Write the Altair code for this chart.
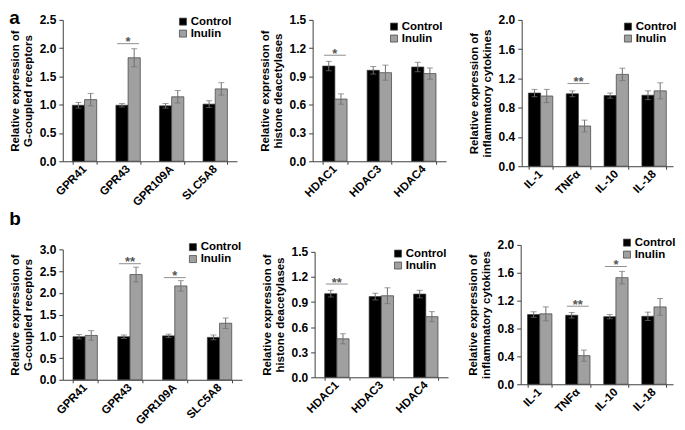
import altair as alt
import pandas as pd

GROUPS = ["Control", "Inulin"]
COLORS = ["#000000", "#a0a0a0"]
FONT = "Liberation Sans"

gpr_genes = ["GPR41", "GPR43", "GPR109A", "SLC5A8"]
hdac_genes = ["HDAC1", "HDAC3", "HDAC4"]
cyto_genes = ["IL-1", "TNFα", "IL-10", "IL-18"]

gpr_title = ["Relative expression of", "G-coupled receptors"]
hdac_title = ["Relative expression of", "histone deacetylases"]
cyto_title = ["Relative expression of", "inflammatory cytokines"]

# ---- panel a ----
a_gpr_ctrl = [0.99, 0.99, 0.98, 1.01]
a_gpr_ctrl_err = [0.05, 0.03, 0.04, 0.06]
a_gpr_inul = [1.09, 1.83, 1.14, 1.28]
a_gpr_inul_err = [0.11, 0.16, 0.11, 0.11]
a_gpr_sig_genes = ["GPR43"]
a_gpr_sig_marks = ["*"]
a_gpr_sig_y = [2.08]

a_hdac_ctrl = [1.01, 0.965, 1.00]
a_hdac_ctrl_err = [0.05, 0.04, 0.05]
a_hdac_inul = [0.66, 0.94, 0.93]
a_hdac_inul_err = [0.055, 0.08, 0.06]
a_hdac_sig_genes = ["HDAC1"]
a_hdac_sig_marks = ["*"]
a_hdac_sig_y = [1.125]

a_cyto_ctrl = [1.00, 0.99, 0.965, 0.97]
a_cyto_ctrl_err = [0.05, 0.04, 0.035, 0.06]
a_cyto_inul = [0.96, 0.55, 1.255, 1.03]
a_cyto_inul_err = [0.09, 0.08, 0.085, 0.11]
a_cyto_sig_genes = ["TNFα"]
a_cyto_sig_marks = ["**"]
a_cyto_sig_y = [1.13]

# ---- panel b ----
b_gpr_ctrl = [0.99, 0.99, 1.01, 0.975]
b_gpr_ctrl_err = [0.05, 0.04, 0.04, 0.055]
b_gpr_inul = [1.02, 2.42, 2.16, 1.30]
b_gpr_inul_err = [0.11, 0.17, 0.12, 0.12]
b_gpr_sig_genes = ["GPR43", "GPR109A"]
b_gpr_sig_marks = ["**", "*"]
b_gpr_sig_y = [2.67, 2.35]

b_hdac_ctrl = [1.00, 0.965, 0.995]
b_hdac_ctrl_err = [0.04, 0.04, 0.045]
b_hdac_inul = [0.46, 0.975, 0.725]
b_hdac_inul_err = [0.06, 0.095, 0.06]
b_hdac_sig_genes = ["HDAC1"]
b_hdac_sig_marks = ["**"]
b_hdac_sig_y = [1.115]

b_cyto_ctrl = [1.00, 0.99, 0.97, 0.975]
b_cyto_ctrl_err = [0.04, 0.04, 0.03, 0.06]
b_cyto_inul = [1.01, 0.41, 1.53, 1.11]
b_cyto_inul_err = [0.10, 0.08, 0.09, 0.12]
b_cyto_sig_genes = ["TNFα", "IL-10"]
b_cyto_sig_marks = ["**", "*"]
b_cyto_sig_y = [1.12, 1.69]


def make_panel(genes, ctrl, ctrl_err, inul, inul_err, sig_genes, sig_marks, sig_y,
               ymax, ystep, title, w, h, leg_x, leg_y):
    rows = []
    for g, v, e in zip(genes, ctrl, ctrl_err):
        rows.append({"gene": g, "group": "Control", "value": v, "lo": v - e, "hi": v + e})
    for g, v, e in zip(genes, inul, inul_err):
        rows.append({"gene": g, "group": "Inulin", "value": v, "lo": v - e, "hi": v + e})
    df = pd.DataFrame(rows)
    sig = pd.DataFrame({"gene": sig_genes, "mark": sig_marks, "y": sig_y})

    step = w / len(genes)
    pad = 1 - 24.5 / step
    xs = alt.Scale(domain=genes, paddingInner=pad, paddingOuter=pad / 2)
    xaxis = alt.Axis(labelAngle=-45, labelAlign="right", labelBaseline="middle",
                     labelPadding=3, tickBand="extent", tickSize=3, labelFontSize=11.5)

    def X():
        return alt.X("gene:N", scale=xs, sort=genes, title=None, axis=xaxis)

    xo = alt.XOffset("group:N", scale=alt.Scale(domain=GROUPS, paddingInner=0, paddingOuter=0))
    nt = int(round(ymax / ystep))
    yvals = [round(i * ystep, 3) for i in range(nt + 1)]
    ys = alt.Scale(domain=[0, ymax], nice=False)
    yaxis = alt.Axis(values=yvals, format=".1f", titlePadding=6, titleLineHeight=13,
                     labelPadding=3, tickSize=4, labelFontSize=12)

    def Y(field):
        return alt.Y(field, scale=ys, title=title, axis=yaxis)

    base = alt.Chart(df)
    bars = base.mark_bar(stroke="#3c3c3c", strokeWidth=0.7).encode(
        x=X(), xOffset=xo, y=Y("value:Q"),
        fill=alt.Fill("group:N", scale=alt.Scale(domain=GROUPS, range=COLORS),
                      legend=alt.Legend(orient="none", legendX=leg_x, legendY=leg_y,
                                        title=None, symbolType="square", symbolSize=50,
                                        symbolStrokeColor="#3c3c3c", symbolStrokeWidth=0.7,
                                        labelFont=FONT, labelFontWeight="bold",
                                        labelFontSize=11.5, labelColor="#000",
                                        rowPadding=-1, labelOffset=2, padding=0)))
    err = base.mark_rule(color="#707070", strokeWidth=1).encode(
        x=X(), xOffset=xo, y=Y("lo:Q"), y2="hi:Q")
    cap_hi = base.mark_tick(orient="horizontal", size=6, thickness=1, color="#707070").encode(
        x=X(), xOffset=xo, y=Y("hi:Q"))
    cap_lo = base.mark_tick(orient="horizontal", size=6, thickness=1, color="#707070").encode(
        x=X(), xOffset=xo, y=Y("lo:Q"))
    sline = alt.Chart(sig).mark_tick(orient="horizontal", size=22, thickness=1, color="#606060").encode(
        x=X(), y=Y("y:Q"))
    stars = alt.Chart(sig).mark_text(fontSize=13, font=FONT, fontWeight="bold", color="#555555",
                                     baseline="alphabetic", dy=2.5).encode(
        x=X(), y=Y("y:Q"), text="mark:N")
    return alt.layer(bars, err, cap_hi, cap_lo, sline, stars).properties(width=w, height=h)


pa1 = make_panel(gpr_genes, a_gpr_ctrl, a_gpr_ctrl_err, a_gpr_inul, a_gpr_inul_err,
                 a_gpr_sig_genes, a_gpr_sig_marks, a_gpr_sig_y, 2.5, 0.5, gpr_title, 175, 142, 115, -4)
pa2 = make_panel(hdac_genes, a_hdac_ctrl, a_hdac_ctrl_err, a_hdac_inul, a_hdac_inul_err,
                 a_hdac_sig_genes, a_hdac_sig_marks, a_hdac_sig_y, 1.5, 0.3, hdac_title, 134, 142, 76, 1)
pa3 = make_panel(cyto_genes, a_cyto_ctrl, a_cyto_ctrl_err, a_cyto_inul, a_cyto_inul_err,
                 a_cyto_sig_genes, a_cyto_sig_marks, a_cyto_sig_y, 2.0, 0.4, cyto_title, 152, 147, 101, 1)

pb1 = make_panel(gpr_genes, b_gpr_ctrl, b_gpr_ctrl_err, b_gpr_inul, b_gpr_inul_err,
                 b_gpr_sig_genes, b_gpr_sig_marks, b_gpr_sig_y, 3.0, 0.5, gpr_title, 180, 131, 125, -8)
pb2 = make_panel(hdac_genes, b_hdac_ctrl, b_hdac_ctrl_err, b_hdac_inul, b_hdac_inul_err,
                 b_hdac_sig_genes, b_hdac_sig_marks, b_hdac_sig_y, 1.5, 0.3, hdac_title, 134, 126, 78, -4)
pb3 = make_panel(cyto_genes, b_cyto_ctrl, b_cyto_ctrl_err, b_cyto_inul, b_cyto_inul_err,
                 b_cyto_sig_genes, b_cyto_sig_marks, b_cyto_sig_y, 2.0, 0.4, cyto_title, 153, 140, 101, -8)

row_a = alt.hconcat(pa1, pa2, pa3, spacing=76, bounds="flush").resolve_scale(
    fill="independent").properties(
    title=alt.TitleParams("a", anchor="start", fontSize=19, font=FONT, fontWeight="bold", offset=-14))
row_b = alt.hconcat(pb1, pb2, pb3, spacing=73, bounds="flush", center=True).resolve_scale(
    fill="independent").properties(
    title=alt.TitleParams("b", anchor="start", fontSize=19, font=FONT, fontWeight="bold", offset=8))

chart = alt.vconcat(row_a, row_b, spacing=2).resolve_scale(fill="independent").configure_axis(
    labelFont=FONT, labelFontWeight="bold", labelColor="#000000",
    titleFont=FONT, titleFontWeight="bold", titleFontSize=11.5, titleColor="#000000",
    domainColor="#404040", tickColor="#404040", grid=False
).configure_view(strokeWidth=0).properties(padding={"left": 1, "top": 0, "right": 0, "bottom": 0})

chart.save("out.html", embed_options={"renderer": "svg", "actions": False})
